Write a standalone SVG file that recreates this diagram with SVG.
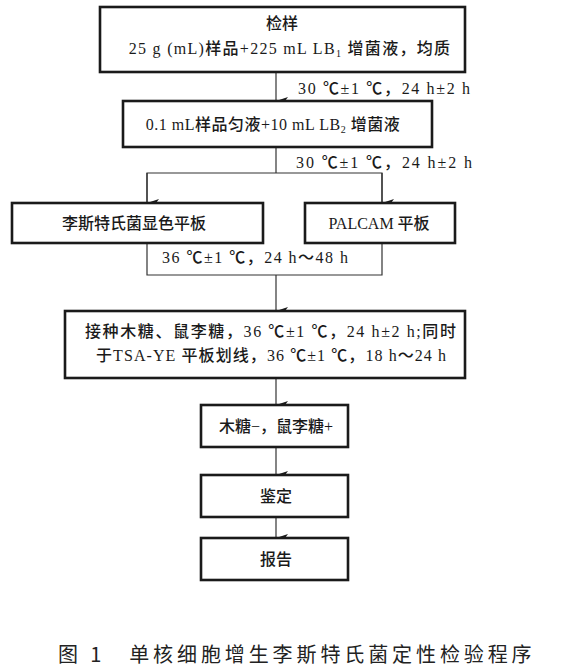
<svg xmlns="http://www.w3.org/2000/svg" width="576" height="669" viewBox="0 0 576 669">
<defs>
<marker id="ah" markerWidth="8" markerHeight="12" refX="4" refY="12" orient="auto-start-reverse" markerUnits="userSpaceOnUse" viewBox="0 0 8 12">
<path d="M0,0 L4,12 L8,0 L4,3 Z" fill="#1a1a1a"/>
</marker>
<style>
.box{fill:#fff;stroke:#1a1a1a;stroke-width:2.6}
.t{font-family:"Liberation Serif","Noto Sans CJK SC",serif;font-size:16px;fill:#1a1a1a;font-weight:500}
.c{text-anchor:middle}
.ln{fill:none;stroke:#333;stroke-width:1.2}
.cap{font-family:"Noto Sans CJK SC","Noto Sans",sans-serif;font-size:20px;fill:#222;letter-spacing:3.9px}
</style>
</defs>
<rect width="576" height="669" fill="#fff"/>
<g id="connectors">
<line class="ln" x1="276" y1="72" x2="276" y2="101" marker-end="url(#ah)"/>
<line class="ln" x1="276" y1="147" x2="276" y2="173"/>
<polyline class="ln" points="147,203 147,173 382,173 382,203"/>
<line class="ln" x1="147" y1="173" x2="147" y2="203" marker-end="url(#ah)"/>
<line class="ln" x1="382" y1="173" x2="382" y2="203" marker-end="url(#ah)"/>
<polyline class="ln" points="147,243 147,275 382,275 382,243"/>
<line class="ln" x1="276" y1="275" x2="276" y2="311" marker-end="url(#ah)"/>
<line class="ln" x1="276" y1="378" x2="276" y2="405" marker-end="url(#ah)"/>
<line class="ln" x1="276" y1="447" x2="276" y2="475" marker-end="url(#ah)"/>
<line class="ln" x1="276" y1="517" x2="276" y2="538" marker-end="url(#ah)"/>
<text class="t" x="298" y="94" textLength="172" lengthAdjust="spacing">30 ℃±1 ℃，24 h±2 h</text>
<text class="t" x="296" y="168" textLength="176" lengthAdjust="spacing">30 ℃±1 ℃，24 h±2 h</text>
<text class="t" x="162" y="263" textLength="186" lengthAdjust="spacing">36 ℃±1 ℃，24 h～48 h</text>
</g>
<g id="n1">
<rect class="box" x="100" y="7" width="365" height="65"/>
<text class="t c" x="282" y="29">检样</text>
<text class="t c" x="290" y="54" letter-spacing="1.3">25 g (mL)样品+225 mL LB<tspan font-size="10" dy="3">1</tspan><tspan dy="-3"> 增菌液，均质</tspan></text>
</g>
<g id="n2">
<rect class="box" x="123" y="101" width="309" height="46"/>
<text class="t c" x="273" y="130" letter-spacing="0.5">0.1 mL样品匀液+10 mL LB<tspan font-size="10" dy="3">2</tspan><tspan dy="-3"> 增菌液</tspan></text>
</g>
<g id="n3">
<rect class="box" x="12" y="203" width="251" height="40"/>
<text class="t c" x="134" y="229">李斯特氏菌显色平板</text>
</g>
<g id="n4">
<rect class="box" x="305" y="203" width="150" height="40"/>
<text class="t c" x="379" y="229">PALCAM 平板</text>
</g>
<g id="n5">
<rect class="box" x="65" y="311" width="400" height="67"/>
<text class="t" x="85" y="337" textLength="371" lengthAdjust="spacing">接种木糖、鼠李糖，36 ℃±1 ℃，24 h±2 h;同时</text>
<text class="t" x="96" y="361" textLength="350" lengthAdjust="spacing">于TSA-YE 平板划线，36 ℃±1 ℃，18 h～24 h</text>
</g>
<g id="n6">
<rect class="box" x="201" y="405" width="147" height="42"/>
<text class="t c" x="276" y="432">木糖−，鼠李糖+</text>
</g>
<g id="n7">
<rect class="box" x="201" y="475" width="147" height="42"/>
<text class="t c" x="276" y="502">鉴定</text>
</g>
<g id="n8">
<rect class="box" x="201" y="538" width="147" height="42"/>
<text class="t c" x="276" y="565">报告</text>
</g>
<text class="cap" x="58" y="662">图 1　单核细胞增生李斯特氏菌定性检验程序</text>
</svg>
